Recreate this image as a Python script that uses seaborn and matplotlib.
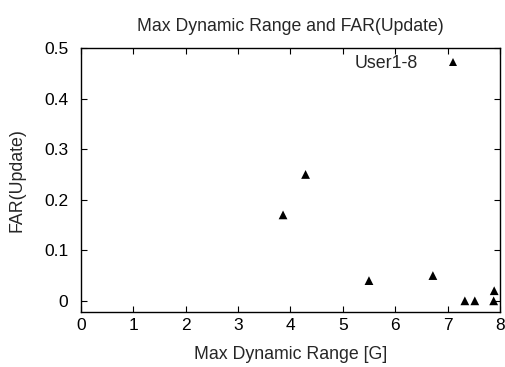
import matplotlib
matplotlib.use("Agg")
import matplotlib.pyplot as plt
import seaborn as sns
import pandas as pd

max_range = [3.86, 4.29, 5.50, 6.72, 7.33, 7.52, 7.88, 7.89]
far_update = [0.17, 0.25, 0.04, 0.05, 0.0, 0.0, 0.0, 0.02]
series_name = "User1-8"
x_ticks = [0, 1, 2, 3, 4, 5, 6, 7, 8]
y_ticks = [0, 0.1, 0.2, 0.3, 0.4, 0.5]
y_tick_labels = ["0", "0.1", "0.2", "0.3", "0.4", "0.5"]

sns.set_style("ticks")
plt.rcParams['font.family'] = ['Liberation Sans', 'DejaVu Sans']

df = pd.DataFrame({"x": max_range, "y": far_update, "s": series_name})

fig = plt.figure(figsize=(5.05, 3.67), dpi=100)
ax = fig.add_axes([0.160, 0.150, 0.830, 0.719])
sns.scatterplot(data=df, x="x", y="y", hue="s", palette=["black"], marker="^",
                s=40, edgecolor="black", linewidth=0, ax=ax)

ax.set_xlim(0, 8)
ax.set_ylim(-0.022, 0.5)
ax.set_xticks(x_ticks)
ax.set_xticklabels([str(v) for v in x_ticks])
ax.set_yticks(y_ticks)
ax.set_yticklabels(y_tick_labels)
ax.tick_params(direction="in", top=True, right=True, length=4, width=0.8,
               labelsize=12.5, colors="black")
ax.tick_params(axis="x", pad=4)
ax.tick_params(axis="y", pad=9)
for sp in ax.spines.values():
    sp.set_visible(True)
    sp.set_linewidth(1.0)
    sp.set_color("black")

ax.set_xlabel("Max Dynamic Range [G]", fontsize=12.8, labelpad=10)
ax.set_ylabel("FAR(Update)", fontsize=12.8, labelpad=13)
ax.set_title("Max Dynamic Range and FAR(Update)", fontsize=12.7, pad=12)

leg = ax.legend(loc="upper right", frameon=False, markerfirst=False,
                fontsize=12.8, handletextpad=0.97, handlelength=2.0,
                borderaxespad=0.0, bbox_to_anchor=(0.9475, 1.0))

fig.savefig("out.png", dpi=100)
